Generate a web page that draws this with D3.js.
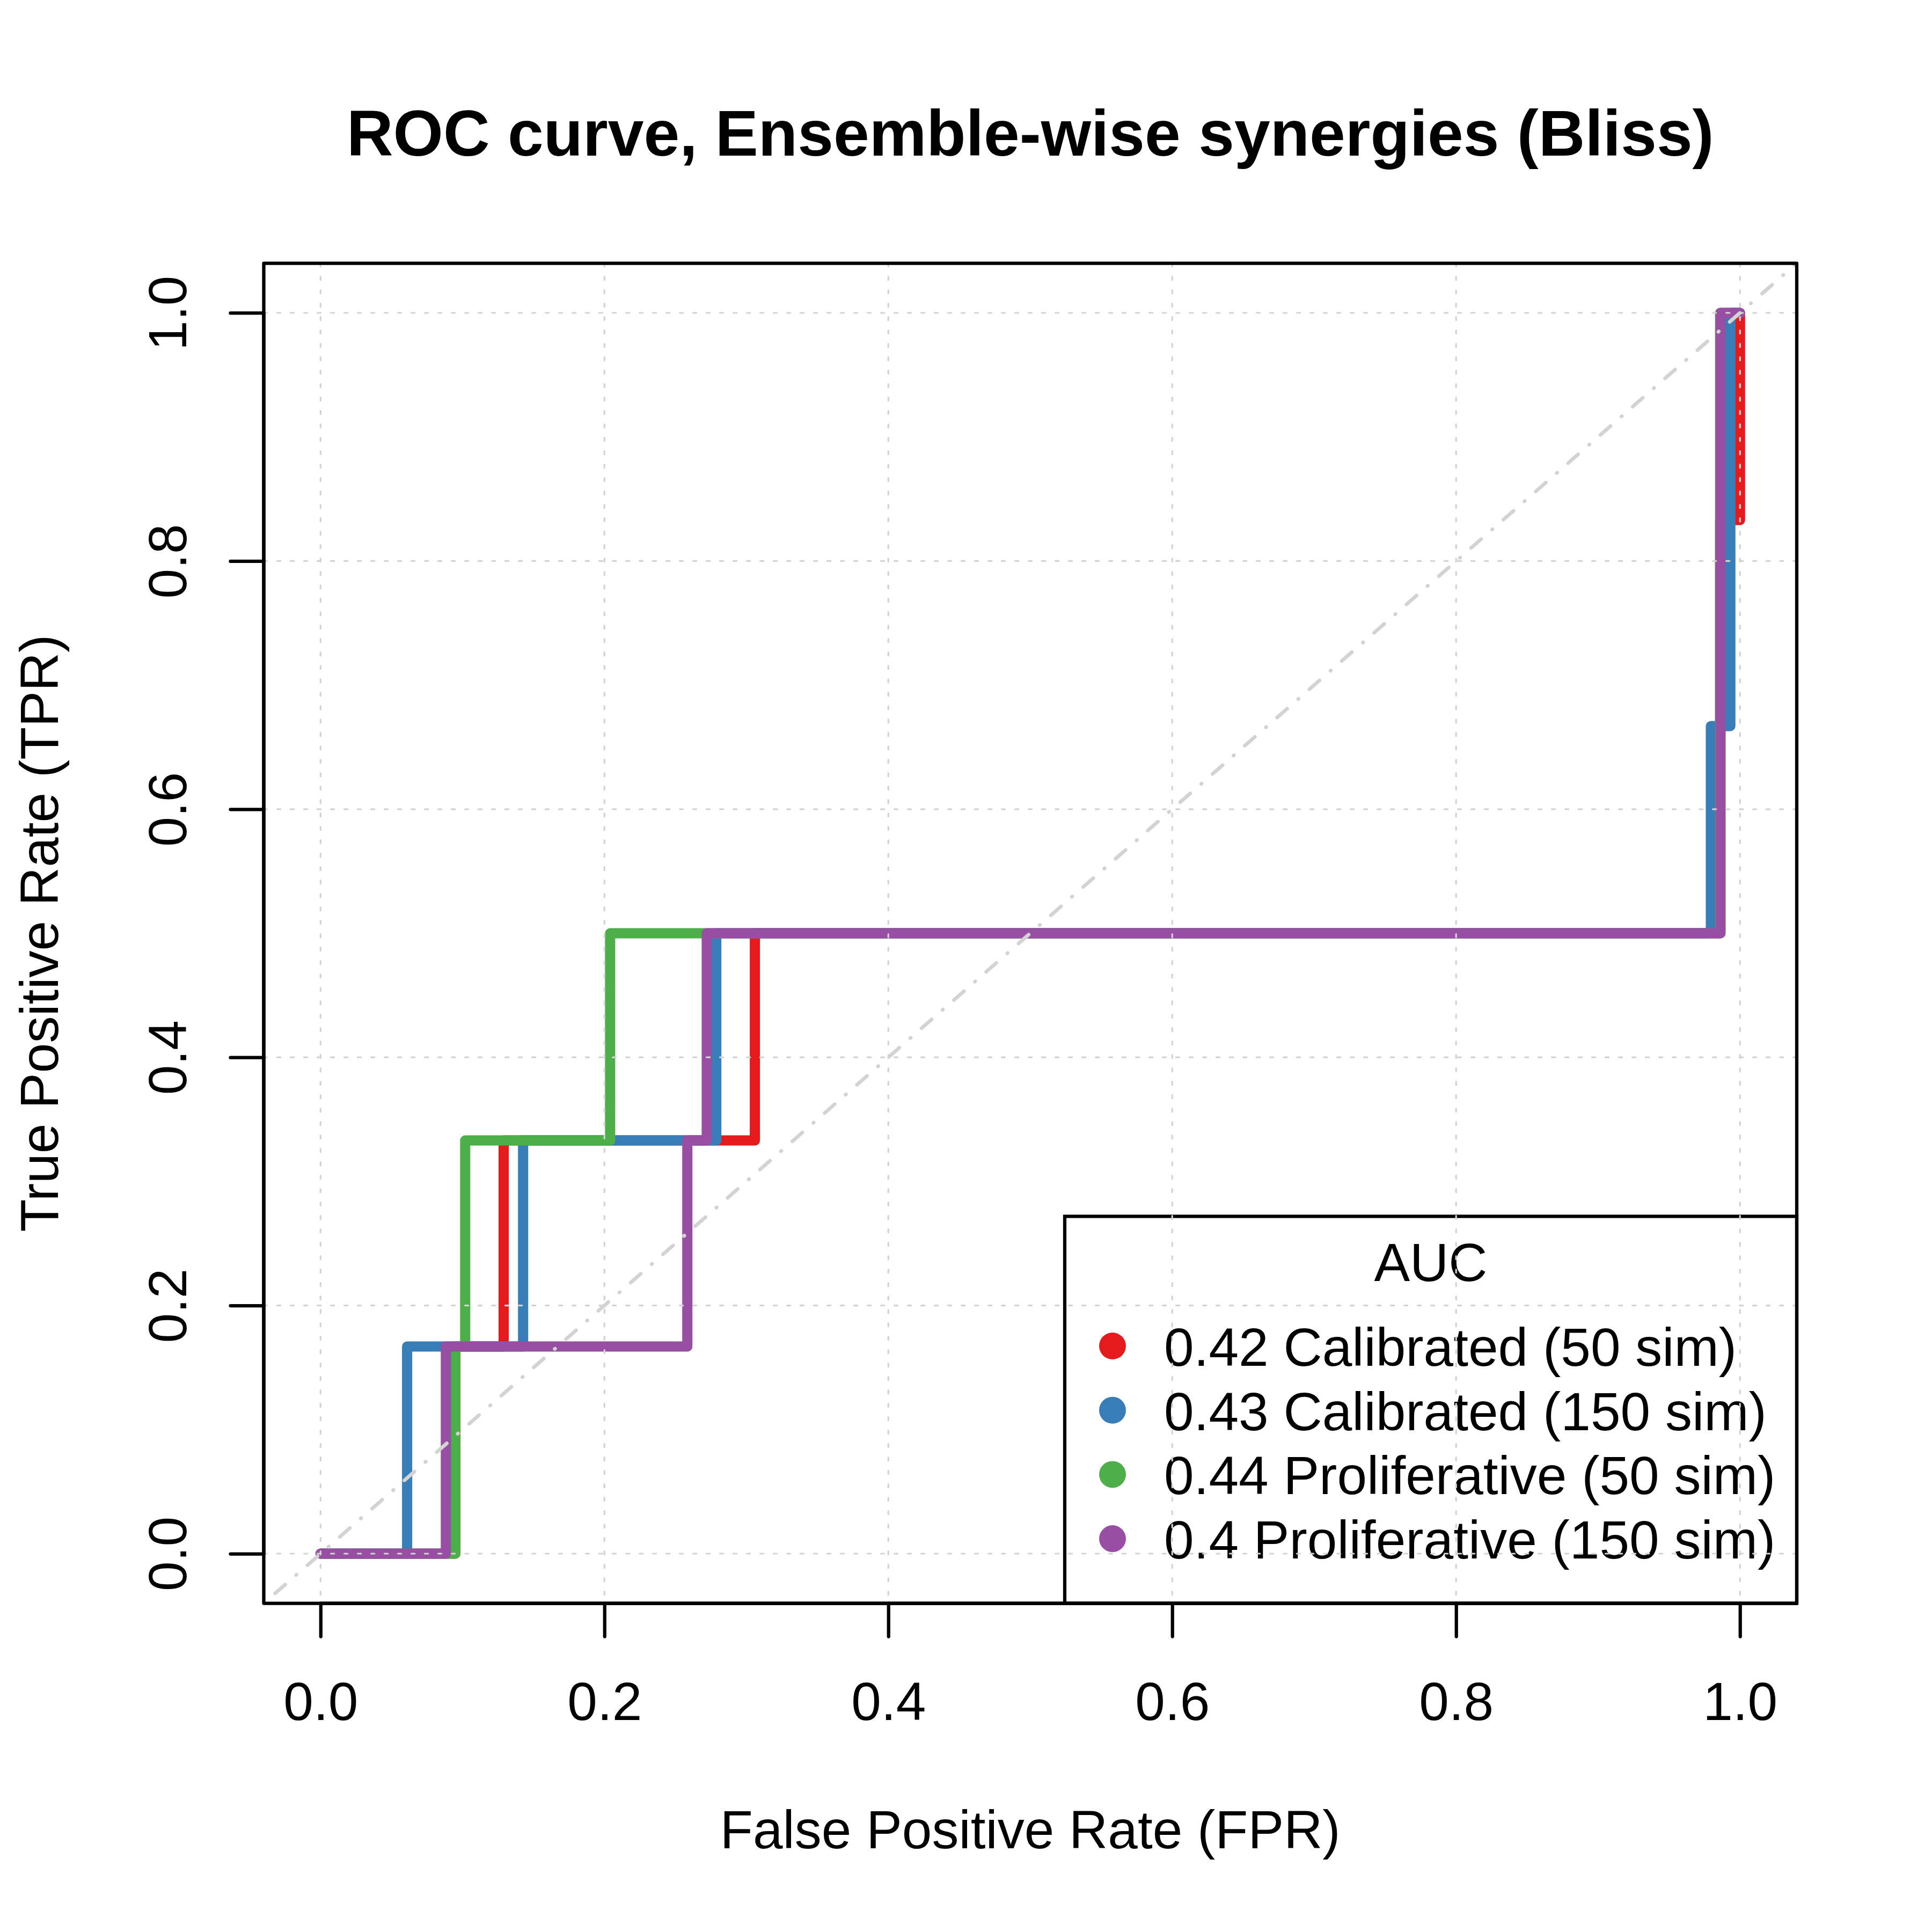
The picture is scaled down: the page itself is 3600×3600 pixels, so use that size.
<!DOCTYPE html>
<html>
<head>
<meta charset="utf-8">
<script src="https://cdn.jsdelivr.net/npm/d3@7"></script>
<style>
  html, body { margin: 0; padding: 0; background: #ffffff; }
  svg { display: block; }
  text { font-family: "Liberation Sans", Arial, Helvetica, sans-serif; fill: #000; }
</style>
</head>
<body>
<script>
// ---- data ----
const seriesNames = ["0.42 Calibrated (50 sim)", "0.43 Calibrated (150 sim)", "0.44 Proliferative (50 sim)", "0.4 Proliferative (150 sim)"];
const seriesColors = ["#E41A1C", "#377EB8", "#4DAF4A", "#984EA3"];

const calib50Fpr  = [0, 0.095, 0.095, 0.129, 0.129, 0.306, 0.306, 0.986, 0.986, 1.0, 1.0];
const calib50Tpr  = [0, 0, 0.167, 0.167, 0.333, 0.333, 0.5, 0.5, 0.833, 0.833, 1.0];
const calib150Fpr = [0, 0.061, 0.061, 0.1427, 0.1427, 0.2788, 0.2788, 0.9795, 0.9795, 0.9932, 0.9932, 1.0];
const calib150Tpr = [0, 0, 0.167, 0.167, 0.333, 0.333, 0.5, 0.5, 0.667, 0.667, 1.0, 1.0];
const prolif50Fpr  = [0, 0.0949, 0.0949, 0.1019, 0.1019, 0.204, 0.204, 0.986, 0.986, 1.0];
const prolif50Tpr  = [0, 0, 0.167, 0.167, 0.333, 0.333, 0.5, 0.5, 1.0, 1.0];
const prolif150Fpr = [0, 0.0883, 0.0883, 0.2584, 0.2584, 0.2721, 0.2721, 0.9863, 0.9863, 1.0];
const prolif150Tpr = [0, 0, 0.167, 0.167, 0.333, 0.333, 0.5, 0.5, 1.0, 1.0];

const tickValues = [0, 0.2, 0.4, 0.6, 0.8, 1.0];
const tickLabels = ["0.0", "0.2", "0.4", "0.6", "0.8", "1.0"];

const titleText = "ROC curve, Ensemble-wise synergies (Bliss)";
const xLabel = "False Positive Rate (FPR)";
const yLabel = "True Positive Rate (TPR)";
const legendTitle = "AUC";

// ---- layout ----
const W = 3600, H = 3600;
const L = 491.5, R = 3348, T = 490.5, B = 2987.5;
const lw = 6.25; // R lwd 1 at 600 dpi

const svg = d3.select("body").append("svg")
  .attr("width", W).attr("height", H)
  .attr("viewBox", `0 0 ${W} ${H}`);
svg.append("rect").attr("width", W).attr("height", H).attr("fill", "#fff");

const x = d3.scaleLinear().domain([-0.04, 1.04]).range([L, R]);
const y = d3.scaleLinear().domain([-0.04, 1.04]).range([B, T]);

svg.append("defs").append("clipPath").attr("id", "plotclip")
  .append("rect").attr("x", L).attr("y", T).attr("width", R - L).attr("height", B - T);

const plot = svg.append("g").attr("clip-path", "url(#plotclip)");

// curves
const series = [
  { fpr: calib50Fpr, tpr: calib50Tpr },
  { fpr: calib150Fpr, tpr: calib150Tpr },
  { fpr: prolif50Fpr, tpr: prolif50Tpr },
  { fpr: prolif150Fpr, tpr: prolif150Tpr }
];
const line = d3.line().x(d => x(d[0])).y(d => y(d[1]));
series.forEach((s, i) => {
  const pts = s.fpr.map((f, j) => [f, s.tpr[j]]);
  plot.append("path")
    .attr("d", line(pts))
    .attr("fill", "none")
    .attr("stroke", seriesColors[i])
    .attr("stroke-width", 19)
    .attr("stroke-linejoin", "round")
    .attr("stroke-linecap", "round");
});

// legend
const lg = svg.append("g");
const lgL = 1984, lgT = 2266.5;
lg.append("rect")
  .attr("x", lgL).attr("y", lgT)
  .attr("width", R - lgL).attr("height", B - lgT)
  .attr("fill", "none").attr("stroke", "#000").attr("stroke-width", lw);
lg.append("text")
  .attr("x", (lgL + R) / 2).attr("y", 2387)
  .attr("text-anchor", "middle").attr("font-size", 100)
  .text(legendTitle);
seriesNames.forEach((name, i) => {
  const by = 2545 + i * 119.7;
  lg.append("circle")
    .attr("cx", 2073).attr("cy", by - 37)
    .attr("r", 25).attr("fill", seriesColors[i]);
  lg.append("text")
    .attr("x", 2169).attr("y", by)
    .attr("font-size", 100)
    .text(name);
});

// grid (drawn on top, as in the reference)
const grid = svg.append("g").attr("clip-path", "url(#plotclip)");
tickValues.forEach(v => {
  grid.append("line")
    .attr("x1", x(v)).attr("x2", x(v)).attr("y1", T).attr("y2", B)
    .attr("stroke", "#D3D3D3").attr("stroke-width", 3.2)
    .attr("stroke-dasharray", "6.25,18.75").attr("stroke-linecap", "round");
  grid.append("line")
    .attr("x1", L).attr("x2", R).attr("y1", y(v)).attr("y2", y(v))
    .attr("stroke", "#D3D3D3").attr("stroke-width", 3.2)
    .attr("stroke-dasharray", "6.25,18.75").attr("stroke-linecap", "round");
});

// diagonal reference line
plot.append("line")
  .attr("x1", x(-0.04)).attr("y1", y(-0.04))
  .attr("x2", x(1.04)).attr("y2", y(1.04))
  .attr("stroke", "#D3D3D3").attr("stroke-width", 6.7)
  .attr("stroke-dasharray", "1,27,25,27").attr("stroke-linecap", "round");

// box
svg.append("rect")
  .attr("x", L).attr("y", T).attr("width", R - L).attr("height", B - T)
  .attr("fill", "none").attr("stroke", "#000").attr("stroke-width", lw)
  .attr("stroke-linejoin", "round");

// axes
const xAxis = d3.axisBottom(x).tickValues(tickValues)
  .tickFormat((d, i) => tickLabels[i]).tickSize(62).tickPadding(86);
const gx = svg.append("g").attr("transform", `translate(0,${B})`).call(xAxis);
gx.select(".domain").attr("stroke", "#000").attr("stroke-width", lw)
  .attr("d", `M${x(0)},0H${x(1)}`);
gx.selectAll(".tick line").attr("stroke", "#000").attr("stroke-width", lw).attr("stroke-linecap", "round");
gx.selectAll(".tick text")
  .attr("font-size", 100).attr("font-family", "Liberation Sans, Arial, sans-serif")
  .attr("fill", "#000").attr("dy", null).attr("y", 3205 - B);

const yAxis = d3.axisLeft(y).tickValues(tickValues)
  .tickFormat((d, i) => tickLabels[i]).tickSize(62);
const gy = svg.append("g").attr("transform", `translate(${L},0)`).call(yAxis);
gy.select(".domain").attr("stroke", "#000").attr("stroke-width", lw)
  .attr("d", `M0,${y(0)}V${y(1)}`);
gy.selectAll(".tick line").attr("stroke", "#000").attr("stroke-width", lw).attr("stroke-linecap", "round");
gy.selectAll(".tick text")
  .attr("font-size", 100).attr("font-family", "Liberation Sans, Arial, sans-serif")
  .attr("fill", "#000")
  .attr("x", null).attr("dy", null)
  .attr("text-anchor", "middle")
  .attr("transform", `translate(${347 - L},0) rotate(-90)`);

// titles
svg.append("text")
  .attr("x", (L + R) / 2).attr("y", 290)
  .attr("text-anchor", "middle").attr("font-size", 120).attr("font-weight", "bold")
  .text(titleText);
svg.append("text")
  .attr("x", (L + R) / 2).attr("y", 3444)
  .attr("text-anchor", "middle").attr("font-size", 100)
  .text(xLabel);
svg.append("text")
  .attr("transform", `translate(108,${(T + B) / 2}) rotate(-90)`)
  .attr("text-anchor", "middle").attr("font-size", 100)
  .text(yLabel);
</script>
</body>
</html>
